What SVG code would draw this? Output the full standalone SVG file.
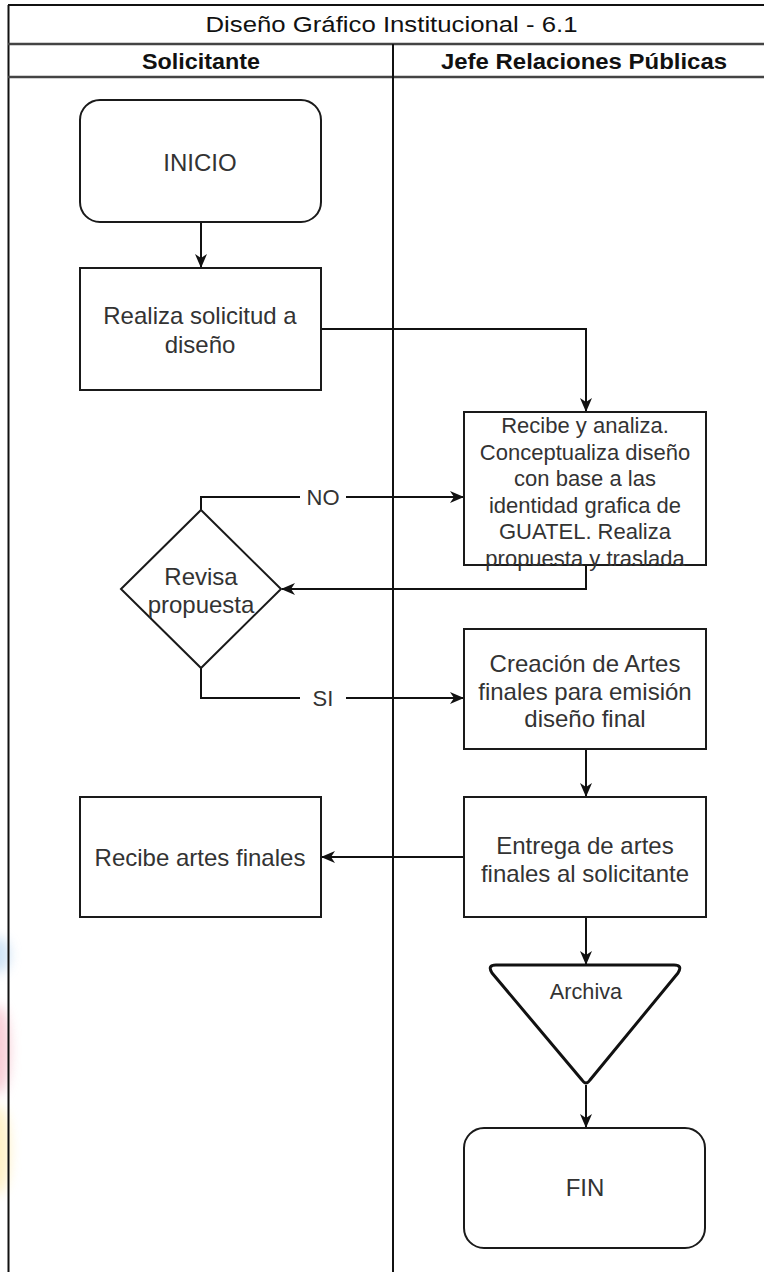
<svg xmlns="http://www.w3.org/2000/svg" width="764" height="1272" viewBox="0 0 764 1272">
  <defs>
    <style>
      .frame { fill: none; stroke: #111; stroke-width: 2; }
      .hdr { fill: none; stroke: #444; stroke-width: 2.5; }
      .box { fill: #fff; stroke: #1a1a1a; stroke-width: 2; }
      .tri { fill: #fff; stroke: #111; stroke-width: 3; stroke-linejoin: round; }
      .edge { fill: none; stroke: #111; stroke-width: 2; }
      .t { font-family: "Liberation Sans", Arial, sans-serif; font-size: 24px; fill: #333; text-anchor: middle; }
      .s { font-size: 22px; }
      .a { font-size: 21.7px; }
      .h { font-family: "Liberation Sans", Arial, sans-serif; font-size: 22px; fill: #111; text-anchor: middle; }
      .lbl { font-family: "Liberation Sans", Arial, sans-serif; font-size: 22px; fill: #333; text-anchor: middle; }
    </style>
    <marker id="arr" viewBox="0 0 14 12" refX="13" refY="6" markerWidth="14" markerHeight="12" markerUnits="userSpaceOnUse" orient="auto">
      <path d="M0,0 L14,6 L0,12 L4,6 Z" fill="#111"/>
    </marker>
    <filter id="blur" x="-50%" y="-50%" width="200%" height="200%">
      <feGaussianBlur stdDeviation="6"/>
    </filter>
  </defs>
  <rect x="0" y="0" width="764" height="1272" fill="#fff"/>

  <g id="watermark" filter="url(#blur)" opacity="0.55">
    <ellipse cx="-2" cy="955" rx="12" ry="18" fill="#a9cdee"/>
    <ellipse cx="-2" cy="1050" rx="12" ry="45" fill="#f3a5b6"/>
    <ellipse cx="-2" cy="1150" rx="12" ry="45" fill="#ffe79a"/>
  </g>

  <g id="pool">
    <line class="frame" x1="8.5" y1="5" x2="8.5" y2="1272"/>
    <line class="frame" x1="8" y1="5" x2="764" y2="5"/>
    <line class="hdr" x1="8" y1="44" x2="764" y2="44"/>
    <line class="hdr" x1="8" y1="77" x2="764" y2="77"/>
    <line class="frame" x1="393" y1="44" x2="393" y2="1272"/>
    <text class="h" x="391.5" y="32" textLength="372" lengthAdjust="spacingAndGlyphs">Diseño Gráfico Institucional - 6.1</text>
    <text class="h" x="201" y="68.5" font-weight="bold" textLength="118" lengthAdjust="spacingAndGlyphs">Solicitante</text>
    <text class="h" x="584" y="68.5" font-weight="bold" textLength="286" lengthAdjust="spacingAndGlyphs">Jefe Relaciones Públicas</text>
  </g>

  <g id="connectors">
    <path class="edge" d="M201,222 L201,267" marker-end="url(#arr)"/>
    <path class="edge" d="M321,329 L586,329 L586,411" marker-end="url(#arr)"/>
    <path class="edge" d="M201,510 L201,497 L300,497 M346,497 L463,497" marker-end="url(#arr)"/>
    <path class="edge" d="M586,565 L586,589 L282,589" marker-end="url(#arr)"/>
    <path class="edge" d="M201,668 L201,698 L300,698 M346,698 L463,698" marker-end="url(#arr)"/>
    <path class="edge" d="M586,749 L586,796" marker-end="url(#arr)"/>
    <path class="edge" d="M464,857 L322,857" marker-end="url(#arr)"/>
    <path class="edge" d="M586,917 L586,964" marker-end="url(#arr)"/>
    <path class="edge" d="M586,1085 L586,1127" marker-end="url(#arr)"/>
    <text class="lbl" x="323" y="505">NO</text>
    <text class="lbl" x="323" y="706">SI</text>
  </g>

  <g id="inicio">
    <rect class="box" x="80" y="100" width="241" height="122" rx="20" ry="20"/>
    <text class="t" x="200" y="170.5">INICIO</text>
  </g>

  <g id="solicitud">
    <rect class="box" x="80" y="268" width="241" height="122"/>
    <text class="t" x="200" y="324">Realiza solicitud a</text>
    <text class="t" x="200" y="353">diseño</text>
  </g>

  <g id="recibe-analiza">
    <rect class="box" x="464" y="412" width="242" height="153"/>
    <text class="t s" x="585" y="433">Recibe y analiza.</text>
    <text class="t s" x="585" y="459.5">Conceptualiza diseño</text>
    <text class="t s" x="585" y="486">con base a las</text>
    <text class="t s" x="585" y="512.5">identidad grafica de</text>
    <text class="t s" x="585" y="539">GUATEL. Realiza</text>
    <text class="t s" x="585" y="565.5">propuesta y traslada</text>
  </g>

  <g id="revisa">
    <path class="box" d="M201,510 L281,589 L201,668 L121,589 Z"/>
    <text class="t" x="201" y="585">Revisa</text>
    <text class="t" x="201" y="613">propuesta</text>
  </g>

  <g id="creacion">
    <rect class="box" x="464" y="629" width="242" height="120"/>
    <text class="t" x="585" y="671.5">Creación de Artes</text>
    <text class="t" x="585" y="700">finales para emisión</text>
    <text class="t" x="585" y="727">diseño final</text>
  </g>

  <g id="entrega">
    <rect class="box" x="464" y="797" width="242" height="120"/>
    <text class="t" x="585" y="853.5">Entrega de artes</text>
    <text class="t" x="585" y="881.5">finales al solicitante</text>
  </g>

  <g id="recibe-artes">
    <rect class="box" x="80" y="797" width="241" height="120"/>
    <text class="t" x="200" y="865.5">Recibe artes finales</text>
  </g>

  <g id="archiva">
    <path class="tri" d="M496,965 L674,965 Q683,965 678,973 L590,1080 Q586,1086 582,1080 L492,973 Q487,965 496,965 Z"/>
    <text class="t a" x="586" y="999">Archiva</text>
  </g>

  <g id="fin">
    <rect class="box" x="464" y="1128" width="241" height="120" rx="20" ry="20"/>
    <text class="t" x="585" y="1195.5">FIN</text>
  </g>
</svg>
